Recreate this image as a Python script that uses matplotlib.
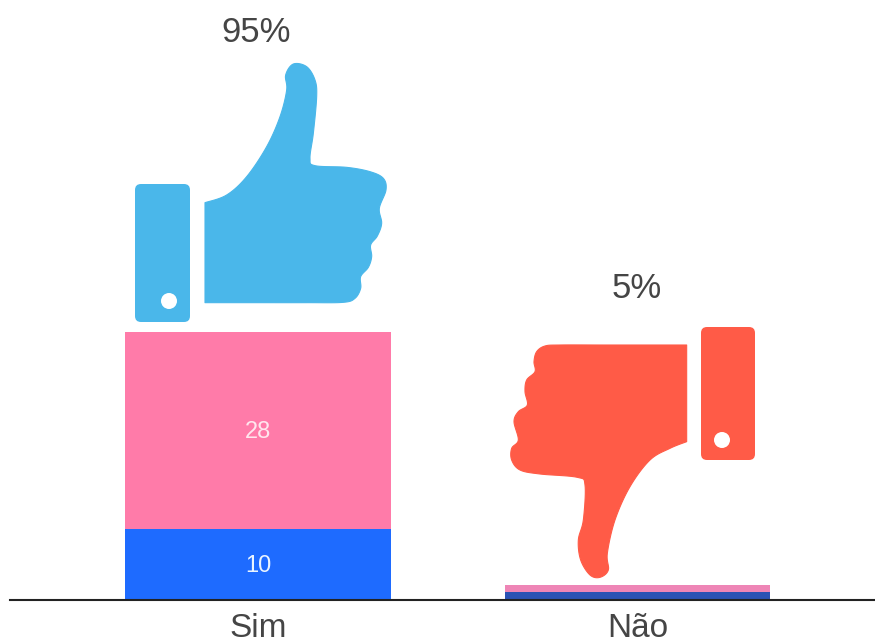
import numpy as np
import matplotlib
matplotlib.use("Agg")
import matplotlib.pyplot as plt
from matplotlib.patches import FancyBboxPatch, Circle, PathPatch
from matplotlib.path import Path
from matplotlib.transforms import Affine2D

# Data
categories = ["Sim", "Não"]
series_bottom = [10, 1]
series_top = [28, 1]
shares = ["95%", "5%"]
label_bottom = ["10", ""]
label_top = ["28", ""]

# Colours
bottom_colors = ["#1E6BFF", "#2A52B4"]
top_colors = ["#FF7BA9", "#EE85B6"]
UP = "#4AB7EA"
DOWN = "#FF5B47"
INK = "#454545"

W, H = 875, 644
plt.rcParams["font.family"] = ["Liberation Sans", "DejaVu Sans"]
fig = plt.figure(figsize=(W / 100, H / 100), dpi=100, facecolor="white")

base = 599.5
unit = 7.05
step = 379.5
x0 = 258
ax = fig.add_axes([10 / W, (H - base) / H, 865 / W, base / H])
ax.set_xlim((10 - x0) / step, (875 - x0) / step)
ax.set_ylim(0, base / unit)
x = np.arange(len(categories))
bw = 0.70
ax.bar(x, series_bottom, width=bw, color=bottom_colors, zorder=2)
ax.bar(x, series_top, width=bw, bottom=series_bottom, color=top_colors, zorder=2)
for xi, b, t, lb, lt in zip(x, series_bottom, series_top, label_bottom, label_top):
    if lb:
        ax.annotate(lb, (xi, b / 2), xytext=(0, -1.5), textcoords="offset points",
                    color="#EAF4FF", ha="center", va="center", fontsize=17)
    if lt:
        ax.annotate(lt, (xi, b + t / 2), xytext=(0, -1.5), textcoords="offset points",
                    color="#FFE6EE", ha="center", va="center", fontsize=17)

for s in ("top", "left", "right"):
    ax.spines[s].set_visible(False)
ax.spines["bottom"].set_linewidth(1.5)
ax.spines["bottom"].set_color("#222222")
ax.spines["bottom"].set_zorder(3)
ax.patch.set_alpha(0)
ax.set_yticks([])
ax.set_xticks(x)
ax.set_xticklabels(categories, fontsize=24, color=INK)
ax.tick_params(axis="x", length=0, pad=10)

# Icons are decoration, drawn in picture pixels
px = Affine2D().scale(1, -1).translate(0, H)


def smooth(pts, n=10):
    p = np.array(pts, float)
    q = np.vstack([p[0], p, p[-1]])
    out = []
    for i in range(1, len(q) - 2):
        a, b, c, d = q[i - 1], q[i], q[i + 1], q[i + 2]
        for t in np.linspace(0, 1, n, endpoint=False):
            out.append(0.5 * (2 * b + (c - a) * t + (2 * a - 5 * b + 4 * c - d) * t ** 2
                              + (3 * b - a - 3 * c + d) * t ** 3))
    out.append(p[-1])
    return np.array(out)


def add_outline(pts, ox, oy, color):
    s = smooth(pts) / 3 + [ox, oy]
    verts = np.vstack([s, s[0]])
    codes = [Path.MOVETO] + [Path.LINETO] * (len(s) - 1) + [Path.CLOSEPOLY]
    fig.add_artist(PathPatch(Path(verts, codes), facecolor=color, edgecolor=color,
                             linewidth=0.8, joinstyle="round", transform=px))


def add_tab(x1, y1, x2, y2, cx, cy, color):
    fig.add_artist(FancyBboxPatch((x1 + 6, y1 + 6), x2 - x1 - 12, y2 - y1 - 12,
                                  boxstyle="round,pad=6,rounding_size=6", facecolor=color,
                                  edgecolor="none", transform=px))
    fig.add_artist(Circle((cx, cy), 8, facecolor="white", edgecolor="none", transform=px))


up = [(255, 458), (320, 435), (380, 380), (440, 290), (480, 200), (500, 120), (497, 75),
      (520, 42), (560, 50), (585, 90), (590, 140), (580, 250), (570, 325), (585, 347),
      (680, 352), (750, 365), (790, 385), (798, 420), (778, 475), (785, 520), (772, 558),
      (752, 585), (755, 620), (745, 652), (722, 680), (722, 715), (705, 745), (670, 757),
      (560, 758), (400, 758), (255, 758)]
add_outline(up, 120, 50, UP)
add_tab(135, 184, 190, 322, 169, 301, UP)

down = [(590, 75), (480, 75), (340, 75), (210, 75), (165, 78), (140, 95), (132, 125),
        (135, 155), (110, 180), (105, 215), (112, 255), (85, 275), (72, 305), (85, 360),
        (65, 385), (65, 420), (90, 450), (150, 462), (262, 472), (285, 495), (280, 600),
        (265, 660), (272, 720), (300, 765), (330, 772), (355, 750), (352, 700), (375, 600),
        (420, 500), (480, 420), (540, 385), (590, 365)]
add_outline(down, 490, 320, DOWN)
add_tab(701, 327, 755, 460, 722, 440, DOWN)

share_x = [256, 637]
share_y = [33, 289]
for label, xp, yp in zip(shares, share_x, share_y):
    fig.text(xp / W, 1 - yp / H, label, fontsize=25, color=INK, ha="center", va="center")

fig.savefig("out.png", dpi=100, facecolor="white")
